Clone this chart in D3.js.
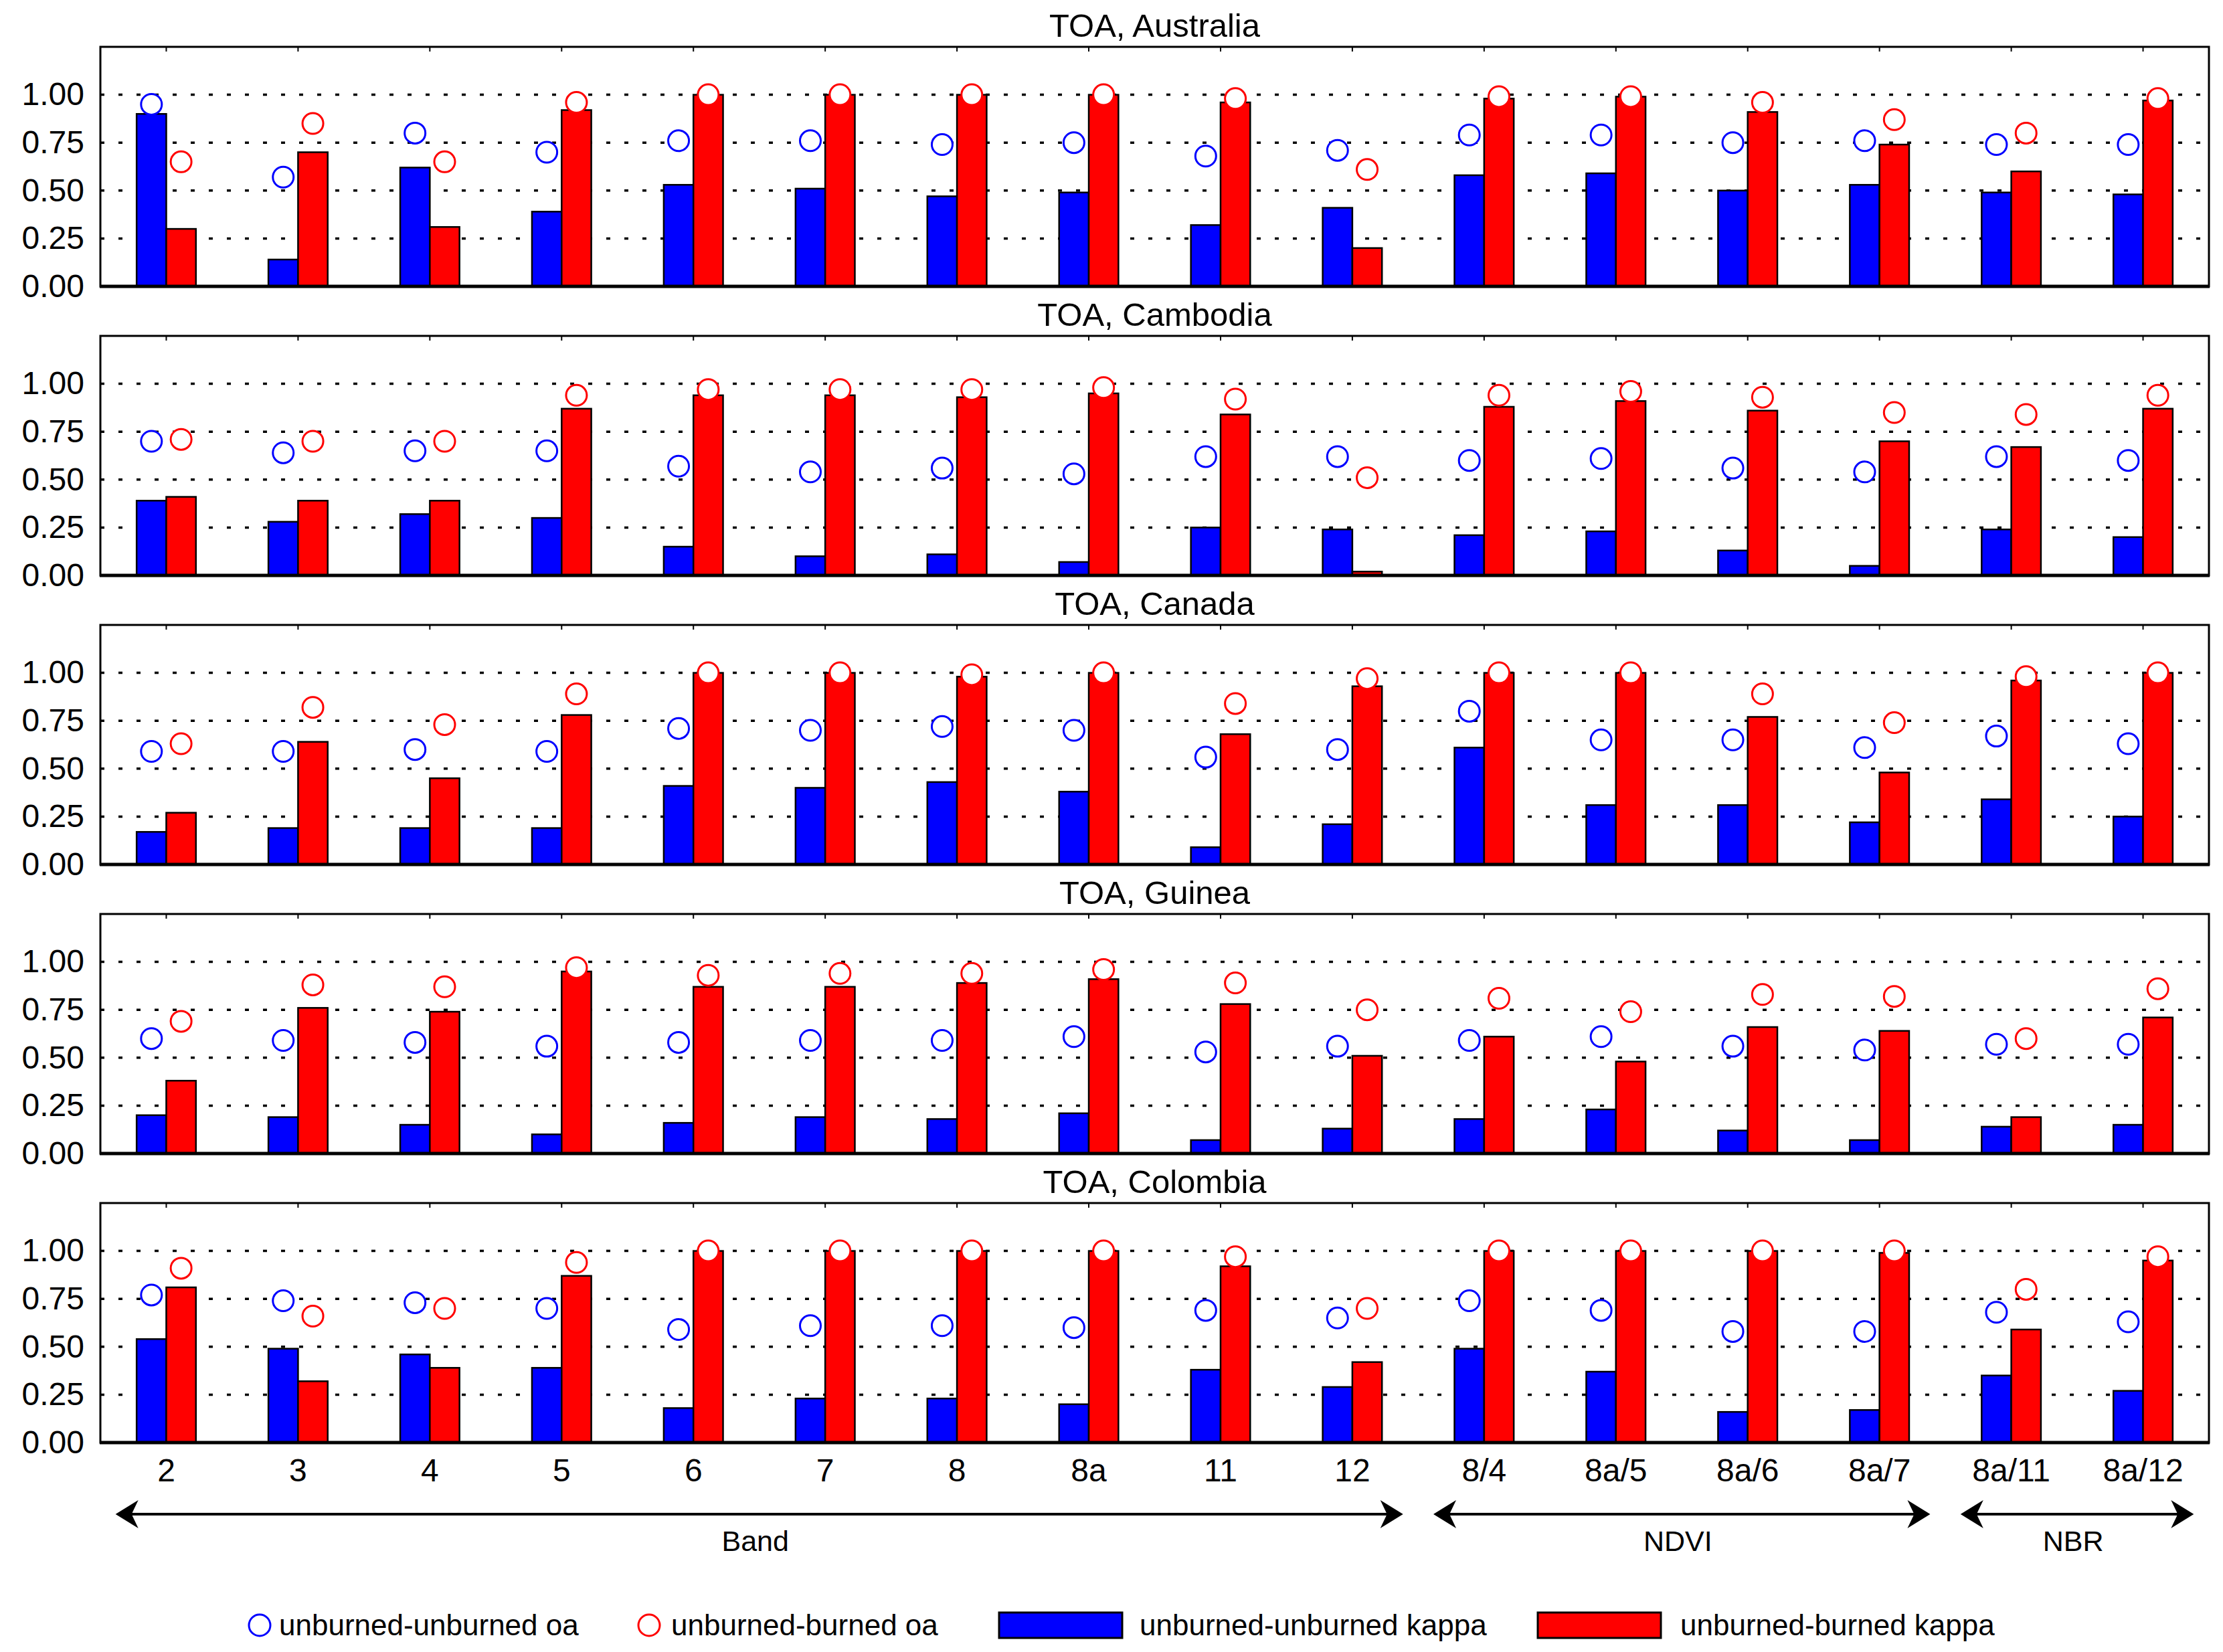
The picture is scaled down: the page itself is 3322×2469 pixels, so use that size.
<!DOCTYPE html>
<html>
<head>
<meta charset="utf-8">
<script src="https://cdn.jsdelivr.net/npm/d3@7"></script>
<style>
  html, body { margin: 0; padding: 0; background: #ffffff; }
  svg { display: block; }
  text { font-family: "Liberation Sans", Arial, Helvetica, sans-serif; fill: #000; }
</style>
</head>
<body>
<script>
// ---------------- data ----------------
const categories = ["2","3","4","5","6","7","8","8a","11","12","8/4","8a/5","8a/6","8a/7","8a/11","8a/12"];
const panelTitles = ["TOA, Australia","TOA, Cambodia","TOA, Canada","TOA, Guinea","TOA, Colombia"];
const yTicks = [0, 0.25, 0.5, 0.75, 1.0];

// unburned-unburned kappa (blue bars)
const australiaUUKappa = [0.90,0.14,0.62,0.39,0.53,0.51,0.47,0.49,0.32,0.41,0.58,0.59,0.50,0.53,0.49,0.48];
const cambodiaUUKappa  = [0.39,0.28,0.32,0.30,0.15,0.10,0.11,0.07,0.25,0.24,0.21,0.23,0.13,0.05,0.24,0.20];
const canadaUUKappa    = [0.17,0.19,0.19,0.19,0.41,0.40,0.43,0.38,0.09,0.21,0.61,0.31,0.31,0.22,0.34,0.25];
const guineaUUKappa    = [0.20,0.19,0.15,0.10,0.16,0.19,0.18,0.21,0.07,0.13,0.18,0.23,0.12,0.07,0.14,0.15];
const colombiaUUKappa  = [0.54,0.49,0.46,0.39,0.18,0.23,0.23,0.20,0.38,0.29,0.49,0.37,0.16,0.17,0.35,0.27];

// unburned-burned kappa (red bars)
const australiaUBKappa = [0.30,0.70,0.31,0.92,1.00,1.00,1.00,1.00,0.96,0.20,0.98,0.99,0.91,0.74,0.60,0.97];
const cambodiaUBKappa  = [0.41,0.39,0.39,0.87,0.94,0.94,0.93,0.95,0.84,0.02,0.88,0.91,0.86,0.70,0.67,0.87];
const canadaUBKappa    = [0.27,0.64,0.45,0.78,1.00,1.00,0.98,1.00,0.68,0.93,1.00,1.00,0.77,0.48,0.96,1.00];
const guineaUBKappa    = [0.38,0.76,0.74,0.95,0.87,0.87,0.89,0.91,0.78,0.51,0.61,0.48,0.66,0.64,0.19,0.71];
const colombiaUBKappa  = [0.81,0.32,0.39,0.87,1.00,1.00,1.00,1.00,0.92,0.42,1.00,1.00,1.00,0.99,0.59,0.95];

// unburned-unburned oa (blue circles)
const australiaUUOA = [0.95,0.57,0.80,0.70,0.76,0.76,0.74,0.75,0.68,0.71,0.79,0.79,0.75,0.76,0.74,0.74];
const cambodiaUUOA  = [0.70,0.64,0.65,0.65,0.57,0.54,0.56,0.53,0.62,0.62,0.60,0.61,0.56,0.54,0.62,0.60];
const canadaUUOA    = [0.59,0.59,0.60,0.59,0.71,0.70,0.72,0.70,0.56,0.60,0.80,0.65,0.65,0.61,0.67,0.63];
const guineaUUOA    = [0.60,0.59,0.58,0.56,0.58,0.59,0.59,0.61,0.53,0.56,0.59,0.61,0.56,0.54,0.57,0.57];
const colombiaUUOA  = [0.77,0.74,0.73,0.70,0.59,0.61,0.61,0.60,0.69,0.65,0.74,0.69,0.58,0.58,0.68,0.63];

// unburned-burned oa (red circles)
const australiaUBOA = [0.65,0.85,0.65,0.96,1.00,1.00,1.00,1.00,0.98,0.61,0.99,0.99,0.96,0.87,0.80,0.98];
const cambodiaUBOA  = [0.71,0.70,0.70,0.94,0.97,0.97,0.97,0.98,0.92,0.51,0.94,0.96,0.93,0.85,0.84,0.94];
const canadaUBOA    = [0.63,0.82,0.73,0.89,1.00,1.00,0.99,1.00,0.84,0.97,1.00,1.00,0.89,0.74,0.98,1.00];
const guineaUBOA    = [0.69,0.88,0.87,0.97,0.93,0.94,0.94,0.96,0.89,0.75,0.81,0.74,0.83,0.82,0.60,0.86];
const colombiaUBOA  = [0.91,0.66,0.70,0.94,1.00,1.00,1.00,1.00,0.97,0.70,1.00,1.00,1.00,1.00,0.80,0.97];

const groupNames = ["Band","NDVI","NBR"];
const groupFirst = ["2","8/4","8a/11"];
const groupLast  = ["12","8a/7","8a/12"];

const legendLabels = ["unburned-unburned oa","unburned-burned oa","unburned-unburned kappa","unburned-burned kappa"];

// ---------------- layout ----------------
const W = 3322, H = 2469;
const plotLeft = 150, plotRight = 3301;
const panelTop0 = 70, panelH = 358, panelStep = 432;
const BLUE = "#0000ff", RED = "#ff0000";

const panels = panelTitles.map((t, i) => ({
  title: t,
  uuKappa: [australiaUUKappa, cambodiaUUKappa, canadaUUKappa, guineaUUKappa, colombiaUUKappa][i],
  ubKappa: [australiaUBKappa, cambodiaUBKappa, canadaUBKappa, guineaUBKappa, colombiaUBKappa][i],
  uuOA: [australiaUUOA, cambodiaUUOA, canadaUUOA, guineaUUOA, colombiaUUOA][i],
  ubOA: [australiaUBOA, cambodiaUBOA, canadaUBOA, guineaUBOA, colombiaUBOA][i]
}));

const svg = d3.select("body").append("svg")
  .attr("width", W).attr("height", H)
  .attr("viewBox", `0 0 ${W} ${H}`);
svg.append("rect").attr("width", W).attr("height", H).attr("fill", "#fff");

const x = d3.scaleBand().domain(categories).range([plotLeft, plotRight])
  .paddingInner(0.55).paddingOuter(0.275);
const xSub = d3.scaleBand().domain(["uu","ub"]).range([0, x.bandwidth()]);

panels.forEach((p, pi) => {
  const top = panelTop0 + pi * panelStep;
  const bottom = top + panelH;
  const y = d3.scaleLinear().domain([0, 1.25]).range([bottom, top]);
  const g = svg.append("g");

  // title
  g.append("text")
    .attr("x", (plotLeft + plotRight) / 2)
    .attr("y", top - 15)
    .attr("text-anchor", "middle")
    .attr("font-size", 49)
    .text(p.title);

  // dotted gridlines
  g.selectAll("line.grid").data(yTicks.filter(d => d > 0)).join("line")
    .attr("class", "grid")
    .attr("x1", plotLeft).attr("x2", plotRight)
    .attr("y1", d => y(d)).attr("y2", d => y(d))
    .attr("stroke", "#000").attr("stroke-width", 3.5)
    .attr("stroke-dasharray", "6,21");

  // y axis
  const yAxis = d3.axisLeft(y).tickValues(yTicks).tickFormat(d3.format(".2f"))
    .tickSize(0).tickPadding(24);
  const ya = g.append("g").attr("transform", `translate(${plotLeft},0)`).call(yAxis);
  ya.select(".domain").remove();
  ya.selectAll("text").attr("font-size", 48)
    .attr("font-family", "Liberation Sans, Arial, sans-serif");

  // bars
  const bars = categories.map((c, i) => ({ c, uu: p.uuKappa[i], ub: p.ubKappa[i] }));
  g.selectAll("rect.uu").data(bars).join("rect")
    .attr("class", "uu")
    .attr("x", d => x(d.c) + xSub("uu"))
    .attr("width", xSub.bandwidth())
    .attr("y", d => y(d.uu))
    .attr("height", d => y(0) - y(d.uu))
    .attr("fill", BLUE).attr("stroke", "#000").attr("stroke-width", 2.5);
  g.selectAll("rect.ub").data(bars).join("rect")
    .attr("class", "ub")
    .attr("x", d => x(d.c) + xSub("ub"))
    .attr("width", xSub.bandwidth())
    .attr("y", d => y(d.ub))
    .attr("height", d => y(0) - y(d.ub))
    .attr("fill", RED).attr("stroke", "#000").attr("stroke-width", 2.5);

  // circles
  const pts = categories.map((c, i) => ({ c, uu: p.uuOA[i], ub: p.ubOA[i] }));
  g.selectAll("circle.uu").data(pts).join("circle")
    .attr("class", "uu")
    .attr("cx", d => x(d.c) + xSub("uu") + xSub.bandwidth() / 2)
    .attr("cy", d => y(d.uu))
    .attr("r", 15.5)
    .attr("fill", "#fff").attr("stroke", BLUE).attr("stroke-width", 3);
  g.selectAll("circle.ub").data(pts).join("circle")
    .attr("class", "ub")
    .attr("cx", d => x(d.c) + xSub("ub") + xSub.bandwidth() / 2)
    .attr("cy", d => y(d.ub))
    .attr("r", 15.5)
    .attr("fill", "#fff").attr("stroke", RED).attr("stroke-width", 3);

  // inward x ticks top
  g.selectAll("line.tt").data(categories).join("line")
    .attr("class", "tt")
    .attr("x1", d => x(d) + x.bandwidth() / 2).attr("x2", d => x(d) + x.bandwidth() / 2)
    .attr("y1", top).attr("y2", top + 7)
    .attr("stroke", "#000").attr("stroke-width", 2);

  // frame
  g.append("rect")
    .attr("x", plotLeft).attr("y", top)
    .attr("width", plotRight - plotLeft).attr("height", panelH)
    .attr("fill", "none").attr("stroke", "#000").attr("stroke-width", 3);
  g.append("line")
    .attr("x1", plotLeft - 1).attr("x2", plotRight + 1)
    .attr("y1", bottom).attr("y2", bottom)
    .attr("stroke", "#000").attr("stroke-width", 5);

  // x labels on last panel
  if (pi === panels.length - 1) {
    const xAxis = d3.axisBottom(x).tickSize(0).tickPadding(24);
    const xa = g.append("g").attr("transform", `translate(0,${bottom})`).call(xAxis);
    xa.select(".domain").remove();
    xa.selectAll("text").attr("font-size", 48)
      .attr("font-family", "Liberation Sans, Arial, sans-serif");
  }
});

// ---------------- group arrows ----------------
const arrowY = 2263;
const step = x.step();
function headPath() {
  // barbed arrow head pointing right, tip at 0,0
  return "M0,0 L-34,-21 L-24,0 L-34,21 Z";
}
groupNames.forEach((name, gi) => {
  const x1 = x(groupFirst[gi]) - 0.16 * step;
  const x2 = x(groupLast[gi]) + x.bandwidth() + 0.16 * step;
  svg.append("line")
    .attr("x1", x1 + 20).attr("x2", x2 - 20)
    .attr("y1", arrowY).attr("y2", arrowY)
    .attr("stroke", "#000").attr("stroke-width", 4);
  svg.append("path").attr("d", headPath())
    .attr("transform", `translate(${x2},${arrowY})`).attr("fill", "#000");
  svg.append("path").attr("d", headPath())
    .attr("transform", `translate(${x1},${arrowY}) rotate(180)`).attr("fill", "#000");
  svg.append("text")
    .attr("x", (x1 + x2) / 2 - 6).attr("y", 2318)
    .attr("text-anchor", "middle").attr("font-size", 43)
    .text(name);
});

// ---------------- legend ----------------
const legY = 2429;
const lg = svg.append("g");
lg.append("circle").attr("cx", 388).attr("cy", legY).attr("r", 16)
  .attr("fill", "#fff").attr("stroke", BLUE).attr("stroke-width", 3);
lg.append("text").attr("x", 417).attr("y", legY).attr("dy", "0.35em")
  .attr("font-size", 44).text(legendLabels[0]);
lg.append("circle").attr("cx", 970).attr("cy", legY).attr("r", 16)
  .attr("fill", "#fff").attr("stroke", RED).attr("stroke-width", 3);
lg.append("text").attr("x", 1003).attr("y", legY).attr("dy", "0.35em")
  .attr("font-size", 44).text(legendLabels[1]);
lg.append("rect").attr("x", 1493).attr("y", legY - 19).attr("width", 184).attr("height", 38)
  .attr("fill", BLUE).attr("stroke", "#000").attr("stroke-width", 3);
lg.append("text").attr("x", 1703).attr("y", legY).attr("dy", "0.35em")
  .attr("font-size", 44).text(legendLabels[2]);
lg.append("rect").attr("x", 2298).attr("y", legY - 19).attr("width", 184).attr("height", 38)
  .attr("fill", RED).attr("stroke", "#000").attr("stroke-width", 3);
lg.append("text").attr("x", 2511).attr("y", legY).attr("dy", "0.35em")
  .attr("font-size", 44).text(legendLabels[3]);
</script>
</body>
</html>
